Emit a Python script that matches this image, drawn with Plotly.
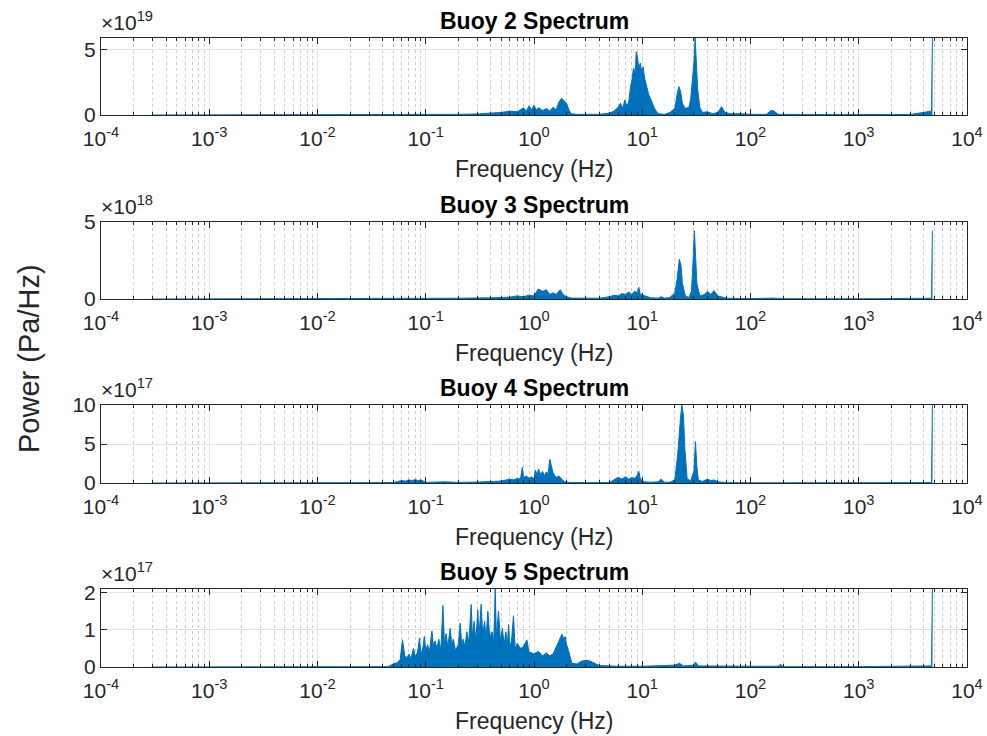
import numpy as np
import plotly.graph_objects as go

# ---------------- data ----------------
buoys = ["Buoy 2 Spectrum", "Buoy 3 Spectrum", "Buoy 4 Spectrum", "Buoy 5 Spectrum"]
exponents = [19, 18, 17, 17]

freq_b2 = [3e-4, 0.05, 0.1, 0.2, 0.3, 0.4, 0.5, 0.6, 0.7, 0.8, 0.85, 0.9, 0.95, 1.0, 1.05, 1.1, 1.2, 1.3,
           1.4, 1.5, 1.6, 1.7, 1.8, 1.9, 2.0, 2.1, 2.2, 2.5, 3, 4, 5, 5.5, 6.0, 6.3, 6.6, 6.9, 7.2, 7.5,
           7.8, 8.0, 8.3, 8.6, 8.8, 9.0, 9.3, 9.6, 9.9, 10.2, 10.5, 11, 11.5, 12, 13, 14, 16, 18, 20, 21,
           21.8, 22.5, 23.5, 25, 27, 28, 29, 30, 30.8, 31.5, 32.5, 34, 36, 40, 45, 50, 54, 58, 65, 80,
           100, 140, 155, 165, 180, 300, 1000, 3000, 4700, 4790]
pow_b2 = [0.0, 0.01, 0.02, 0.05, 0.08, 0.12, 0.2, 0.3, 0.25, 0.55, 0.3, 0.7, 0.4, 0.75, 0.4, 0.55, 0.35, 0.5,
          0.3, 0.6, 0.4, 1.0, 1.28, 1.1, 0.9, 0.4, 0.1, 0.05, 0.04, 0.05, 0.15, 0.3, 0.6, 0.9, 0.5, 1.15, 0.7, 1.0,
          2.2, 2.6, 3.6, 3.2, 4.87, 4.5, 3.6, 4.0, 3.3, 3.7, 2.85, 2.2, 1.54, 1.2, 0.5, 0.1, 0.05, 0.2, 0.5, 1.6,
          2.18, 1.9, 0.9, 0.5, 0.6, 1.2, 2.5, 4.0, 5.92, 4.5, 2.0, 0.6, 0.2, 0.25, 0.1, 0.2, 0.64, 0.2, 0.1, 0.1,
          0.05, 0.05, 0.35, 0.3, 0.05, 0.04, 0.03, 0.04, 0.3, 5.92]

freq_b3 = [3e-4, 0.05, 0.1, 0.2, 0.4, 0.6, 0.7, 0.8, 0.9, 1.0, 1.05, 1.1, 1.2, 1.3, 1.4, 1.5, 1.6, 1.75,
           1.85, 2.0, 2.2, 3, 4, 5, 5.5, 6, 6.5, 7, 7.5, 8, 8.5, 9.0, 9.3, 9.6, 10.5, 12, 14, 15, 16, 18,
           20, 21, 22, 22.8, 23.5, 25, 27, 28.5, 29.5, 30.3, 31, 32, 34, 38, 40, 43, 46, 50, 60, 100, 160,
           200, 1000, 4700, 4790]
pow_b3 = [0.0, 0.01, 0.03, 0.05, 0.08, 0.12, 0.2, 0.15, 0.25, 0.2, 0.45, 0.65, 0.5, 0.6, 0.3, 0.4, 0.3, 0.6,
          0.3, 0.15, 0.06, 0.04, 0.05, 0.15, 0.25, 0.2, 0.35, 0.3, 0.45, 0.3, 0.5, 0.4, 0.76, 0.3, 0.2, 0.08, 0.05,
          0.15, 0.05, 0.1, 0.4, 1.3, 2.58, 2.2, 1.0, 0.2, 0.1, 0.5, 2.5, 4.43, 3.0, 1.0, 0.2, 0.3, 0.5, 0.3, 0.55,
          0.2, 0.05, 0.02, 0.06, 0.02, 0.01, 0.05, 4.43]

freq_b4 = [3e-4, 0.01, 0.05, 0.055, 0.06, 0.065, 0.07, 0.075, 0.08, 0.085, 0.09, 0.095, 0.1, 0.15, 0.2,
           0.3, 0.4, 0.5, 0.6, 0.65, 0.7, 0.75, 0.78, 0.8, 0.85, 0.9, 0.95, 1.0, 1.03, 1.07, 1.1, 1.15, 1.2,
           1.25, 1.3, 1.35, 1.4, 1.45, 1.5, 1.6, 1.7, 1.8, 1.9, 2.1, 3, 5, 5.5, 6, 6.5, 7, 7.5, 8, 8.5, 9,
           9.3, 9.6, 10.5, 12, 14, 15, 16, 18, 20, 21.3, 22.5, 23.2, 24, 24.8, 26, 28, 30, 31, 32, 33, 36,
           40, 43, 46, 50, 60, 100, 200, 1000, 4700, 4790]
pow_b4 = [0.0, 0.02, 0.05, 0.2, 0.3, 0.25, 0.4, 0.3, 0.45, 0.3, 0.4, 0.25, 0.08, 0.15, 0.08,
          0.12, 0.17, 0.25, 0.5, 0.4, 0.6, 0.5, 2.0, 0.7, 0.9, 0.6, 0.8, 0.5, 1.66, 1.0, 1.8, 1.1, 1.5,
          0.9, 1.4, 1.2, 3.03, 2.0, 1.3, 0.7, 0.9, 0.5, 0.2, 0.08, 0.04, 0.08, 0.4, 0.73, 0.5, 0.8, 0.5, 0.7, 0.6, 1.0,
          1.5, 0.5, 0.15, 0.1, 0.15, 0.5, 0.1, 0.1, 0.4, 3.8, 8.1, 10.0, 8.7, 4.2, 0.5, 0.3, 1.5, 5.3, 2.0, 0.4, 0.2,
          0.5, 0.3, 0.4, 0.15, 0.05, 0.02, 0.03, 0.01, 0.05, 10.0]

freq_b5 = [3e-4, 0.01, 0.045, 0.05, 0.055, 0.058, 0.061, 0.064, 0.067, 0.07, 0.073, 0.077, 0.08, 0.084,
           0.0875, 0.09, 0.094, 0.097, 0.1, 0.104, 0.108, 0.114, 0.118, 0.122, 0.127, 0.132, 0.138, 0.144,
           0.149, 0.154, 0.16, 0.168, 0.174, 0.18, 0.188, 0.2, 0.208, 0.215, 0.222, 0.23, 0.24, 0.25, 0.263,
           0.27, 0.28, 0.29, 0.303, 0.31, 0.325, 0.335, 0.35, 0.36, 0.375, 0.39, 0.41, 0.425, 0.438, 0.45,
           0.47, 0.49, 0.51, 0.53, 0.55, 0.57, 0.581, 0.6, 0.62, 0.646, 0.67, 0.7, 0.75, 0.8, 0.859, 0.9,
           1.0, 1.1, 1.2, 1.3, 1.4, 1.5, 1.6, 1.7, 1.81, 1.9, 1.94, 2.0, 2.08, 2.24, 2.5, 2.7, 3.0, 3.3,
           3.55, 4, 6, 10, 20, 22, 24, 30, 31, 33, 100, 180, 190, 200, 1000, 4700, 4790]
pow_b5 = [0.0, 0.005, 0.01, 0.08, 0.12, 0.2, 0.73, 0.3, 0.25, 0.35, 0.22, 0.5, 0.28, 0.4,
          0.78, 0.35, 0.5, 0.82, 0.45, 0.6, 0.4, 0.97, 0.55, 0.7, 0.5, 0.75, 0.45, 1.66,
          0.6, 0.9, 0.55, 1.04, 0.6, 0.75, 0.45, 0.6, 1.18, 0.6, 0.75, 0.55, 0.95, 0.65, 1.68,
          0.8, 1.23, 0.7, 1.54, 0.8, 1.69, 0.9, 1.23, 0.75, 1.5, 0.8, 0.95, 0.7, 2.1, 0.8,
          1.5, 0.7, 1.04, 0.6, 0.95, 0.6, 1.14, 0.55, 0.7, 1.38, 0.5, 0.64, 0.5, 0.55, 0.73, 0.4,
          0.36, 0.42, 0.3, 0.38, 0.3, 0.35, 0.55, 0.7, 0.88, 0.75, 0.82, 0.6, 0.45, 0.1, 0.08, 0.15, 0.18, 0.16,
          0.12, 0.04, 0.02, 0.02, 0.05, 0.1, 0.03, 0.05, 0.13, 0.03, 0.02, 0.02, 0.07, 0.01, 0.01, 0.03, 2.1]

y_max = [5.92, 5.0, 10.0, 2.1]          # in units of 10^exponent
y_ticks = [[0, 5], [0, 5], [0, 5, 10], [0, 1, 2]]
x_tick_exp = list(range(-4, 5))

freqs = [freq_b2, freq_b3, freq_b4, freq_b5]
pows = [pow_b2, pow_b3, pow_b4, pow_b5]

# ---------------- figure ----------------
W, H = 987, 736
L, R = 101, 967
panel_px = [(38, 115), (222, 299), (405, 483), (589, 667)]
FONT = "Liberation Sans, Arial, Helvetica, sans-serif"
BLUE = "#0072BD"
AXC = "#262626"

fig = go.Figure()
minor_vals = [m * 10.0 ** e for e in range(-4, 4) for m in range(2, 10)]

for i in range(4):
    top, bot = panel_px[i]
    scale = 10.0 ** exponents[i]
    xa = "x" if i == 0 else f"x{i+1}"
    ya = "y" if i == 0 else f"y{i+1}"
    fig.add_trace(go.Scatter(
        x=freqs[i], y=np.array(pows[i]) * scale, mode="lines",
        line=dict(color=BLUE, width=1), fill="tozeroy", fillcolor=BLUE,
        xaxis=xa, yaxis=ya, showlegend=False, hoverinfo="skip"))

    dom_y = [1 - bot / H, 1 - top / H]
    xkey = "xaxis" if i == 0 else f"xaxis{i+1}"
    ykey = "yaxis" if i == 0 else f"yaxis{i+1}"
    fig.layout[xkey] = dict(
        type="log", range=[-4, 4], domain=[L / W, R / W], anchor=ya,
        tickvals=[10.0 ** e for e in x_tick_exp],
        ticktext=[f"10<sup>{e}</sup>" for e in x_tick_exp],
        ticks="inside", ticklen=6, tickcolor=AXC, tickwidth=1, ticklabelstandoff=5,
        showline=True, linecolor=AXC, linewidth=1, mirror="ticks",
        showgrid=True, gridcolor="#e3e3e3", gridwidth=1,
        minor=dict(tickmode="array", tickvals=minor_vals, ticks="inside", ticklen=3,
                   tickcolor=AXC, showgrid=True, gridcolor="rgba(0,0,0,0.2)",
                   griddash="dot", gridwidth=1),
        tickfont=dict(family=FONT, size=21, color=AXC),
        automargin=False, zeroline=False, fixedrange=True)
    fig.layout[ykey] = dict(
        range=[0, y_max[i] * scale], domain=dom_y, anchor=xa,
        tickvals=[v * scale for v in y_ticks[i]], ticktext=[str(v) for v in y_ticks[i]],
        ticks="inside", ticklen=6, tickcolor=AXC,
        showline=True, linecolor=AXC, linewidth=1, mirror="ticks",
        showgrid=True, gridcolor="#e3e3e3", zeroline=False,
        tickfont=dict(family=FONT, size=21, color=AXC),
        automargin=False, fixedrange=True)

    # title
    fig.add_annotation(text=f"<b>{buoys[i]}</b>", xref="paper", yref="paper",
                       x=(L + R) / 2 / W, y=1 - (top - 17) / H, xanchor="center", yanchor="middle",
                       showarrow=False, font=dict(family=FONT, size=23, color="#000000"))
    # exponent
    fig.add_annotation(text=f"×10<sup>{exponents[i]}</sup>", xref="paper", yref="paper",
                       x=(L - 2) / W, y=1 - (top - 17) / H, xanchor="left", yanchor="middle",
                       showarrow=False, font=dict(family=FONT, size=21, color=AXC))
    # x label
    fig.add_annotation(text="Frequency (Hz)", xref="paper", yref="paper",
                       x=(L + R) / 2 / W, y=1 - (bot + 54) / H, xanchor="center", yanchor="middle",
                       showarrow=False, font=dict(family=FONT, size=23, color=AXC))

fig.add_annotation(text="Power (Pa/Hz)", xref="paper", yref="paper", x=29 / W, y=1 - 359 / H,
                   xanchor="center", yanchor="middle", textangle=-90, showarrow=False,
                   font=dict(family=FONT, size=29, color=AXC))

fig.update_layout(width=W, height=H, margin=dict(l=0, r=0, t=0, b=0),
                  paper_bgcolor="white", plot_bgcolor="white", showlegend=False)

fig.write_html("out.html")
